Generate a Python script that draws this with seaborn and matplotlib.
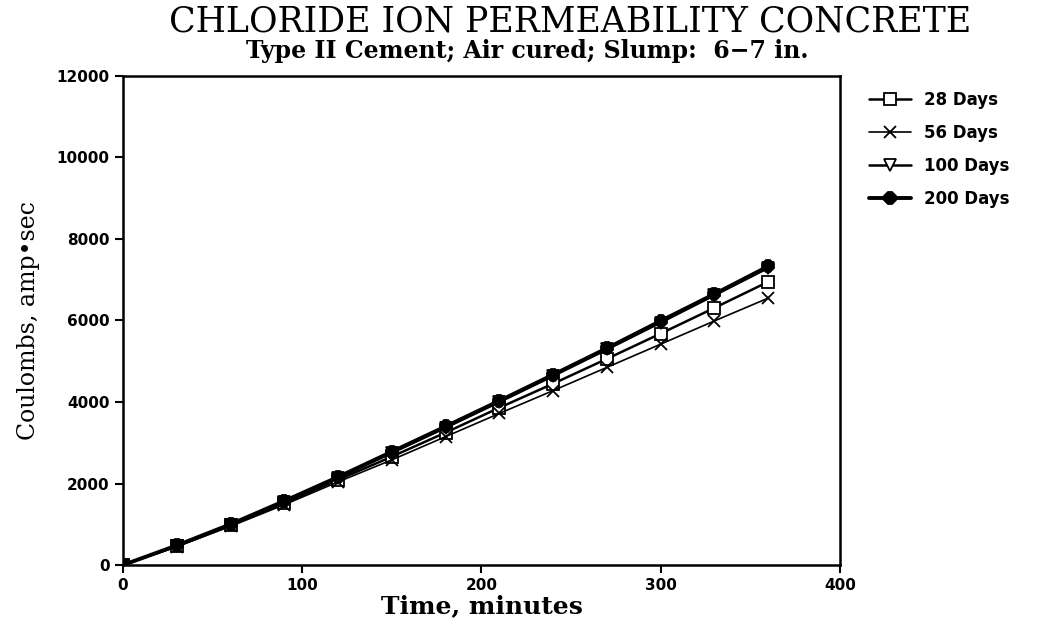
import pandas as pd
import seaborn as sns
import matplotlib.pyplot as plt

# -------------------------------
# Data
# -------------------------------
minutes = [0, 30, 60, 90, 120, 150, 180, 210, 240, 270, 300, 330, 360]
days_28 = [0, 460, 970, 1520, 2090, 2660, 3250, 3860, 4450, 5060, 5680, 6310, 6950]
days_56 = [0, 450, 950, 1480, 2040, 2580, 3150, 3720, 4280, 4850, 5420, 5990, 6550]
days_100 = [0, 470, 990, 1550, 2140, 2750, 3370, 4000, 4640, 5290, 5950, 6620, 7290]
days_200 = [0, 480, 1000, 1570, 2160, 2780, 3400, 4030, 4670, 5320, 5990, 6650, 7330]
series_names = ["28 Days", "56 Days", "100 Days", "200 Days"]

x_ticks = [0, 100, 200, 300, 400]
y_ticks = [0, 2000, 4000, 6000, 8000, 10000, 12000]

# -------------------------------
# Long format for seaborn
# -------------------------------
frames = []
for name, vals in zip(series_names, [days_28, days_56, days_100, days_200]):
    frames.append(pd.DataFrame({"Time": minutes, "Coulombs": vals, "Age": name}))
df = pd.concat(frames, ignore_index=True)

sns.set_style("ticks")
plt.rcParams["font.family"] = ["DejaVu Sans"]
plt.rcParams["text.color"] = "black"
plt.rcParams["axes.labelcolor"] = "black"

fig = plt.figure(figsize=(10.37, 6.33), dpi=100)
ax = fig.add_axes([0.1186, 0.1074, 0.6914, 0.7726])

markers = {"28 Days": "s", "56 Days": "x", "100 Days": "v", "200 Days": "8"}
widths = {"28 Days": 1.8, "56 Days": 1.2, "100 Days": 1.8, "200 Days": 2.8}

for name in series_names:
    sub = df[df["Age"] == name]
    filled = name == "200 Days"
    sns.lineplot(
        data=sub, x="Time", y="Coulombs", ax=ax,
        color="black", linewidth=widths[name],
        marker=markers[name], markersize=9 if filled else 8,
        markerfacecolor="black" if filled else "white",
        markeredgecolor="black", markeredgewidth=1.3,
        label=name,
    )

ax.set_xlim(0, 400)
ax.set_ylim(0, 12000)
ax.set_xticks(x_ticks)
ax.set_yticks(y_ticks)
ax.tick_params(labelsize=11, width=1.5, length=6, colors="black")
for lab in ax.get_xticklabels() + ax.get_yticklabels():
    lab.set_fontweight("bold")
for sp in ax.spines.values():
    sp.set_linewidth(1.8)
    sp.set_color("black")

serif = ["DejaVu Serif"]
ax.set_xlabel("Time, minutes", fontsize=18, fontweight="bold", family=serif, labelpad=1)
ax.set_ylabel("Coulombs, amp\u2022sec", fontsize=17, family=serif, labelpad=12)

fig.text(0.55, 0.950, "CHLORIDE ION PERMEABILITY CONCRETE", ha="center", va="baseline",
         fontsize=25, family=serif)
fig.text(0.508, 0.908, "Type II Cement; Air cured; Slump:  6\u22127 in.", ha="center",
         va="baseline", fontsize=17, fontweight="bold", family=serif)

leg = ax.legend(loc="upper left", bbox_to_anchor=(1.02, 1.0), frameon=False,
                fontsize=12, handlelength=2.5, labelspacing=0.9)
for t in leg.get_texts():
    t.set_color("black")
    t.set_fontweight("bold")

fig.savefig("out.png", dpi=100)
plt.close(fig)
